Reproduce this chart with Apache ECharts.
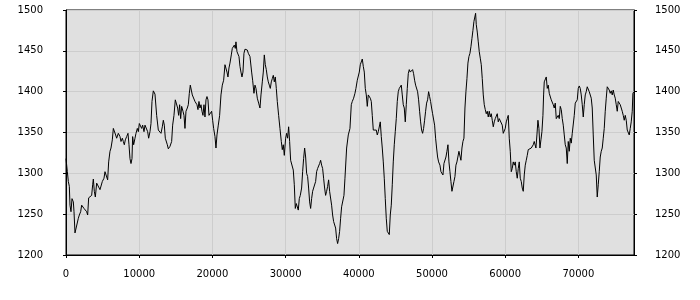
<!DOCTYPE html>
<html>
<head>
<meta charset="utf-8">
<script src="https://cdn.jsdelivr.net/npm/echarts@6/dist/echarts.min.js"></script>
<style>html,body{margin:0;padding:0;background:#fff}#c{width:700px;height:300px}</style>
</head>
<body>
<div id="c"></div>
<script>
const xValues = [
0,182,319,455,546,683,820,1002,1093,1229,
1457,1685,1821,2003,2140,2277,2459,2596,2823,2960,
3096,3278,3506,3643,3734,3870,4007,4189,4417,4644,
4781,4963,5191,5327,5555,5691,5828,6010,6147,6329,
6466,6602,6784,6921,7148,7376,7513,7695,7832,7968,
8105,8287,8469,8606,8742,8879,9015,9106,9243,9425,
9562,9744,9880,10017,10154,10336,10472,10655,10791,11019,
11156,11292,11474,11611,11748,11930,12112,
12157,12385,12612,12840,12977,13159,13295,13432,13568,13705,
13842,13978,14206,14434,14570,14752,14934,15117,15253,15390,
15526,15663,15800,15982,16118,16255,16391,16573,16710,16847,
16983,17120,17256,17438,17621,17757,17894,18030,18167,18304,
18440,18577,18714,18850,18987,19123,19260,19397,19533,19670,
19897,20034,20171,20353,20489,20626,20808,20990,21172,21354,
21537,21719,21855,21992,22128,22265,22402,22584,22720,22857,
22993,23130,23221,23358,23494,23631,23768,23904,24041,24177,
24314,24451,24587,24769,24906,25088,
25134,25362,25498,25680,25817,25954,26136,26318,26500,26637,
26819,26955,27092,27228,27365,27502,27638,27775,27911,28048,
28185,28321,28458,28594,28731,28867,29050,29232,29414,29550,
29687,29824,30006,30142,30279,30415,30552,30689,30871,31053,
31190,31326,31463,31599,31736,31872,32009,32191,32328,32464,
32601,32738,32874,33011,33147,33284,33421,33557,33694,33830,
33967,34104,34240,34377,34513,34650,34787,34923,35060,35196,
35333,35469,35606,35743,35879,36016,36152,36289,36425,36562,
36699,36835,36972,37108,37245,37382,37518,37655,37791,37974,
38111,38339,38566,38794,38976,39113,39295,39477,39613,39796,
39932,40069,40205,40342,40479,40615,40752,40888,41025,41162,
41298,41435,41571,41708,41844,41981,42118,42254,42391,42527,
42664,42800,42937,43074,43210,43347,43483,43620,43756,43893,
44030,44166,44303,44439,44576,44712,44849,44986,45122,45259,
45395,45532,45668,45805,45942,46078,46215,46351,46488,46624,
46761,46898,47034,47217,47353,47490,47626,47763,47900,48036,
48173,48309,48446,48582,48719,48856,48992,49129,49265,49402,
49538,49675,49812,49948,50085,50221,50358,50494,50631,50768,
50904,51041,
51088,51225,51361,51498,51634,51771,51908,52044,52181,52317,
52454,52590,52727,52864,53000,53137,53273,53410,53546,53683,
53820,53956,54093,54229,54366,54503,54639,54776,54912,55049,
55186,55322,55459,55595,55732,55869,55960,56051,56187,56324,
56460,56597,56734,56870,57007,57143,57280,57416,57553,57690,
57826,57963,58099,58236,58373,58509,58646,58782,58919,59055,
59192,59329,59465,59602,59738,59875,60012,60148,60285,60421,
60558,60694,60831,60968,61104,61241,61377,61514,61651,61787,
61924,62060,62197,62333,62470,62607,62743,62880,63016,63153,
63290,63426,63563,63699,63836,63972,
64065,64202,64338,64475,64611,64748,64885,65021,65158,65249,
65340,65476,65613,65750,65886,66023,66159,66296,66433,66569,
66706,66842,66979,67115,67252,67389,67525,67662,67798,67935,
68072,68208,68345,68481,68618,68754,68891,69028,69164,69301,
69437,69574,69711,69847,69984,70120,70257,70393,70530,70667,
70803,70940,71076,71213,71350,71486,71623,71759,71896,72032,
72169,72306,72442,72579,72715,72852,72989,73125,73262,73398,
73535,73671,73808,73945,74081,74218,74354,74491,74628,74764,
74901,75037,75174,75310,75447,75584,75720,75857,75993,76130,
76266,76403,76540,76676,76813,76949,77086,77222,77359,77450,
77587
];
const yValues = [
1318,1302,1290,1284,1261,1253,1269,1265,1253,1227,
1229,1245,1249,1253,1261,1263,1257,1259,1253,1249,
1270,1271,1273,1286,1293,1278,1271,1288,1290,1280,
1278,1290,1294,1302,1300,1292,1314,1327,1331,1341,
1355,1353,1347,1343,1349,1345,1339,1343,1339,1335,
1341,1345,1349,1335,1318,1312,1318,1345,1335,1343,
1349,1355,1351,1361,1363,1355,1359,1351,1359,1360,
1351,1343,1351,1361,1388,1401,1399,
1397,1371,1353,1355,1349,1357,1365,1359,1343,1341,
1335,1330,1333,1339,1359,1371,1390,1392,1380,1371,
1384,1367,1382,1376,1371,1355,1376,1380,1384,1398,
1408,1402,1396,1394,1388,1390,1384,1378,1388,1380,
1384,1376,1371,1384,1369,1390,1394,1390,1371,1371,
1376,1365,1355,1345,1331,1347,1359,1371,1396,1408,
1414,1433,1435,1424,1418,1429,1435,1445,1453,1455,
1457,1453,1461,1449,1451,1443,1431,1424,1418,1424,
1447,1452,1451,1451,1447,1445,
1443,1424,1414,1398,1408,1404,1392,1386,1380,1396,
1412,1424,1445,1433,1427,1418,1412,1408,1404,1412,
1416,1420,1412,1418,1404,1388,1371,1355,1339,1329,
1335,1322,1343,1349,1343,1357,1339,1316,1314,1304,
1286,1257,1263,1261,1255,1269,1273,1282,1302,1318,
1331,1320,1300,1296,1282,1265,1257,1269,1278,1282,
1284,1290,1302,1306,1308,1312,1316,1310,1306,1294,
1282,1273,1278,1284,1292,1278,1276,1261,1249,1241,
1241,1233,1220,1214,1220,1229,1245,1259,1261,1273,
1294,1331,1347,1355,1384,1388,1392,1398,1404,1414,
1414,1424,1433,1435,1440,1431,1424,1404,1396,1382,
1396,1398,1392,1388,1371,1353,1353,1351,1353,1347,
1351,1353,1363,1345,1331,1314,1294,1269,1245,1229,
1229,1225,1249,1261,1286,1314,1335,1351,1367,1388,
1400,1404,1406,1408,1396,1384,1380,1363,1384,1404,
1422,1427,1424,1424,1427,1422,1414,1408,1406,1400,
1390,1376,1363,1353,1349,1355,1365,1376,1386,1390,
1400,1394,1388,1380,1373,1373,1359,1343,1331,1320,
1314,1312,
1310,1302,1300,1298,1312,1314,1320,1327,1335,1314,
1302,1290,1278,1278,1290,1296,1310,1314,1316,1327,
1327,1316,1331,1339,1343,1380,1400,1416,1435,1443,
1447,1455,1465,1475,1486,1488,1496,1482,1473,1461,
1449,1441,1433,1416,1396,1384,1378,1373,1376,1369,
1376,1369,1373,1365,1357,1363,1367,1369,1373,1363,
1367,1369,1365,1359,1349,1351,1355,1363,1367,1371,
1343,1327,1302,1306,1314,1310,1314,1302,1294,1306,
1314,1294,1290,1282,1278,1298,1310,1316,1322,1329,
1331,1327,1331,1333,1335,1339,
1339,1331,1347,1365,1355,1331,1341,1351,1371,1396,
1412,1410,1418,1404,1408,1398,1396,1390,1392,1384,
1380,1386,1367,1365,1371,1367,1382,1378,1367,1359,
1347,1335,1331,1312,1339,1327,1343,1337,1349,1351,
1371,1386,1384,1390,1404,1407,1404,1396,1384,1369,
1384,1396,1400,1406,1404,1400,1400,1392,1380,1347,
1316,1314,1298,1271,1286,1302,1320,1327,1331,1343,
1355,1376,1392,1406,1404,1402,1398,1401,1396,1402,
1396,1392,1384,1376,1388,1388,1384,1380,1376,1371,
1365,1371,1365,1353,1351,1347,1355,1363,1376,1398,
1400
];
const xMax = 77600;
const yMin = 1200, yMax = 1500;

const seriesData = xValues.map((x, i) => [x, yValues[i]]);
const plain = v => String(v);
const labelStyle = { fontFamily: 'DejaVu Sans', fontSize: 10, color: '#000', formatter: plain };
const chart = echarts.init(document.getElementById('c'), null, { renderer: 'canvas' });
chart.setOption({
  animation: false,
  backgroundColor: '#ffffff',
  grid: { left: 66, right: 66, top: 10, bottom: 45, show: true, backgroundColor: '#e0e0e0', borderColor: '#000', borderWidth: 1 },
  xAxis: {
    type: 'value', min: 0, max: xMax, interval: 10000,
    axisLine: { show: true, onZero: false, lineStyle: { color: '#000', width: 1 } },
    axisTick: { show: true, length: 3, lineStyle: { color: '#000' } },
    axisLabel: Object.assign({ margin: 14, showMaxLabel: false }, labelStyle),
    splitLine: { show: true, lineStyle: { color: '#cdcdcd', width: 1 } }
  },
  yAxis: [
    {
      type: 'value', min: yMin, max: yMax, interval: 50, position: 'left',
      axisLine: { show: true, lineStyle: { color: '#000' } },
      axisTick: { show: true, length: 3, lineStyle: { color: '#000' } },
      axisLabel: Object.assign({ margin: 23 }, labelStyle),
      splitLine: { show: true, lineStyle: { color: '#cdcdcd', width: 1 } }
    },
    {
      type: 'value', min: yMin, max: yMax, interval: 50, position: 'right',
      axisLine: { show: true, lineStyle: { color: '#000' } },
      axisTick: { show: true, length: 3, lineStyle: { color: '#000' } },
      axisLabel: Object.assign({ margin: 21 }, labelStyle),
      splitLine: { show: false }
    }
  ],
  series: [{
    type: 'line', data: seriesData, showSymbol: false, symbol: 'none',
    lineStyle: { color: '#000', width: 1 }, z: 5
  }]
});
</script>
</body>
</html>
